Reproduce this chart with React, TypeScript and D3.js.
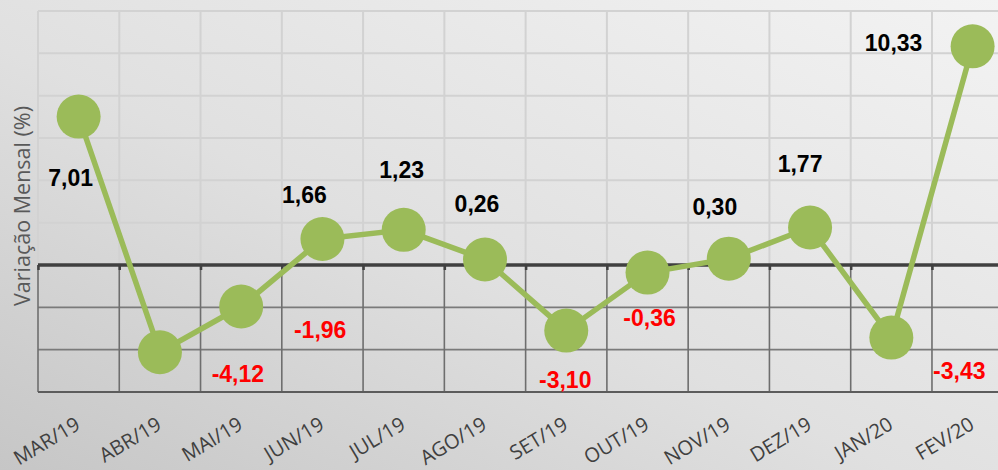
import React, { useEffect, useRef } from 'react';
import * as d3 from 'd3';

// monthly variation (%), Mar/19 .. Fev/20
const MONTHS = ['MAR/19', 'ABR/19', 'MAI/19', 'JUN/19', 'JUL/19', 'AGO/19', 'SET/19', 'OUT/19', 'NOV/19', 'DEZ/19', 'JAN/20', 'FEV/20'];
const VALUES = [7.01, -4.12, -1.96, 1.23, 1.66, 0.26, -3.10, -0.36, 0.30, 1.77, -3.43, 10.33];
// value labels as printed on the chart
const LABEL_TEXT = ['7,01', '-4,12', '-1,96', '1,66', '1,23', '0,26', '-3,10', '-0,36', '0,30', '1,77', '-3,43', '10,33'];
const LABEL_DX = [-8, 78, 79, -18, -2, -8, -1, 2, -14, -10, 68, -79];
const LABEL_DY = [61, 22, 24, -44, -60, -55, 49, 45, -52, -64, 33, -3];
const Y_TICKS = [-6, -4, -2, 0, 2, 4, 6, 8, 10, 12];

const W = 998;
const H = 470;

const App = () => {
    const svgRef = useRef<SVGSVGElement>(null);

    useEffect(() => {
        if (!svgRef.current) return;
        const svg = d3.select(svgRef.current);
        svg.selectAll('*').remove();

        const margin = { top: 11, left: 38 };
        const band = 81.27;
        const plotRight = margin.left + band * MONTHS.length;
        const plotBottom = 392;

        const x = d3.scaleBand().domain(MONTHS).range([margin.left, plotRight]).padding(0);
        const y = d3.scaleLinear().domain([-6, 12]).range([plotBottom, margin.top]);
        const cx = (m: string) => (x(m) as number) + x.bandwidth() / 2;

        // background gradient
        const defs = svg.append('defs');
        const grad = defs.append('linearGradient')
            .attr('id', 'bg')
            .attr('x1', '100%').attr('y1', '0%')
            .attr('x2', '0%').attr('y2', '100%');
        grad.append('stop').attr('offset', '0%').attr('stop-color', '#f3f3f3');
        grad.append('stop').attr('offset', '55%').attr('stop-color', '#e0e0e0');
        grad.append('stop').attr('offset', '100%').attr('stop-color', '#c6c6c6');
        svg.append('rect').attr('width', W).attr('height', H).attr('fill', 'url(#bg)');

        const y0 = y(0);

        // horizontal grid
        svg.append('g')
            .selectAll('line')
            .data(Y_TICKS.filter(t => t !== 0 && t !== -6))
            .join('line')
            .attr('x1', margin.left).attr('x2', plotRight)
            .attr('y1', d => y(d)).attr('y2', d => y(d))
            .attr('stroke', d => (d > 0 ? '#d2d2d2' : '#7a7a7a'))
            .attr('stroke-width', d => (d > 0 ? 2 : 1.6));

        // vertical grid (category boundaries)
        const bounds = MONTHS.map(m => x(m) as number);
        const vg = svg.append('g');
        vg.selectAll('line.up')
            .data(bounds)
            .join('line')
            .attr('class', 'up')
            .attr('x1', d => d).attr('x2', d => d)
            .attr('y1', margin.top).attr('y2', y0)
            .attr('stroke', '#d2d2d2').attr('stroke-width', 2);
        vg.selectAll('line.down')
            .data(bounds)
            .join('line')
            .attr('class', 'down')
            .attr('x1', d => d).attr('x2', d => d)
            .attr('y1', y0).attr('y2', plotBottom)
            .attr('stroke', '#6e6e6e').attr('stroke-width', 1.6);

        // bottom border
        svg.append('line')
            .attr('x1', margin.left).attr('x2', plotRight)
            .attr('y1', plotBottom).attr('y2', plotBottom)
            .attr('stroke', '#5c5c5c').attr('stroke-width', 2);

        // zero axis with ticks
        svg.append('g')
            .attr('transform', `translate(0,${y0})`)
            .call(d3.axisBottom(d3.scaleLinear().domain([0, 1]).range([margin.left, plotRight]))
                .tickValues(d3.range(MONTHS.length + 1).map(i => i / MONTHS.length))
                .tickSize(5)
                .tickFormat(() => ''))
            .call(g => g.select('.domain').remove())
            .call(g => g.selectAll('.tick line').attr('stroke', '#404040').attr('stroke-width', 2.5));
        svg.append('line')
            .attr('x1', margin.left).attr('x2', plotRight)
            .attr('y1', y0).attr('y2', y0)
            .attr('stroke', '#404040').attr('stroke-width', 3.5);

        // line
        const line = d3.line<number>()
            .x((d, i) => cx(MONTHS[i]))
            .y(d => y(d));
        svg.append('path')
            .datum(VALUES)
            .attr('d', line)
            .attr('fill', 'none')
            .attr('stroke', '#9bbb59')
            .attr('stroke-width', 5.5)
            .attr('stroke-linejoin', 'round');

        svg.append('g')
            .selectAll('circle')
            .data(VALUES)
            .join('circle')
            .attr('cx', (d, i) => cx(MONTHS[i]))
            .attr('cy', d => y(d))
            .attr('r', 22)
            .attr('fill', '#9bbb59');

        // value labels
        svg.append('g')
            .selectAll('text')
            .data(LABEL_TEXT)
            .join('text')
            .attr('x', (d, i) => cx(MONTHS[i]) + LABEL_DX[i])
            .attr('y', (d, i) => y(VALUES[i]) + LABEL_DY[i])
            .attr('text-anchor', 'middle')
            .attr('dominant-baseline', 'central')
            .style('font-family', '"Liberation Sans", Arial, sans-serif')
            .style('font-weight', 'bold')
            .style('font-size', '23px')
            .attr('fill', d => (d.startsWith('-') ? '#ff0000' : '#000000'))
            .text(d => d);

        // x labels
        svg.append('g')
            .selectAll('text')
            .data(MONTHS)
            .join('text')
            .attr('transform', d => `translate(${cx(d) + 3},${plotBottom + 36}) rotate(-31)`)
            .attr('text-anchor', 'end')
            .style('font-family', '"Open Sans", sans-serif')
            .style('font-size', '20px')
            .attr('fill', '#404040')
            .text(d => d);

        // y title
        svg.append('text')
            .attr('transform', `translate(30,206) rotate(-90)`)
            .attr('text-anchor', 'middle')
            .style('font-family', '"Open Sans", sans-serif')
            .style('font-size', '21.5px')
            .attr('fill', '#595959')
            .text('Variação Mensal (%)');
    }, []);

    return (
        <svg ref={svgRef} width={W} height={H} style={{ position: 'absolute', left: 0, top: 0 }}></svg>
    );
};

export default App;
